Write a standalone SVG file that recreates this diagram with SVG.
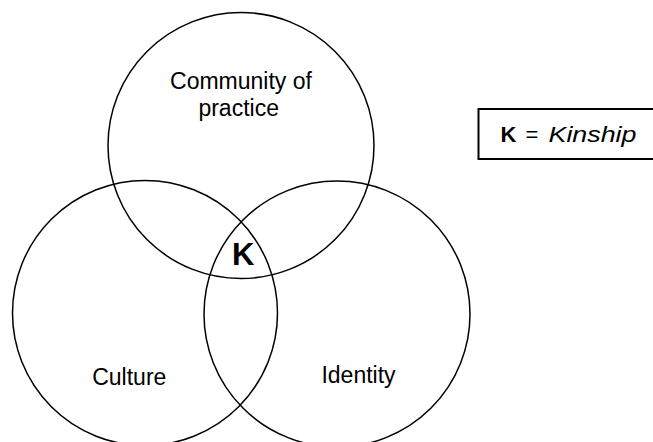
<svg xmlns="http://www.w3.org/2000/svg" width="653" height="442" viewBox="0 0 653 442">
<style>
.c{fill:none;stroke:#000;stroke-width:1.5}
.t{font-family:"Liberation Sans",Arial,sans-serif;font-size:23px;fill:#000}
.m{text-anchor:middle}
.l{font-family:"Liberation Sans",Arial,sans-serif;font-size:22px;fill:#000}
</style>
<rect width="653" height="442" fill="#fff"/>
<g id="community">
<circle class="c" cx="241" cy="145.5" r="133"/>
<text class="t m" x="241" y="89">Community of</text>
<text class="t m" x="238.7" y="115.5">practice</text>
</g>
<g id="culture">
<circle class="c" cx="145" cy="313" r="132.5"/>
<text class="t m" x="129.3" y="384.7">Culture</text>
</g>
<g id="identity">
<circle class="c" cx="337" cy="314" r="133"/>
<text class="t m" x="358.5" y="383.3">Identity</text>
</g>
<g id="kinship-center">
<text class="t" x="232" y="264.5" style="font-size:31px;font-weight:bold">K</text>
</g>
<g id="legend">
<rect x="478.5" y="109" width="190" height="50" fill="none" stroke="#000" stroke-width="2"/>
<text class="l" y="141.7"><tspan x="500.5" font-weight="bold">K</tspan><tspan x="525.5">=</tspan><tspan x="548.5" font-style="italic" textLength="88" lengthAdjust="spacingAndGlyphs">Kinship</tspan></text>
</g>
<g id="connectors"></g>
</svg>
